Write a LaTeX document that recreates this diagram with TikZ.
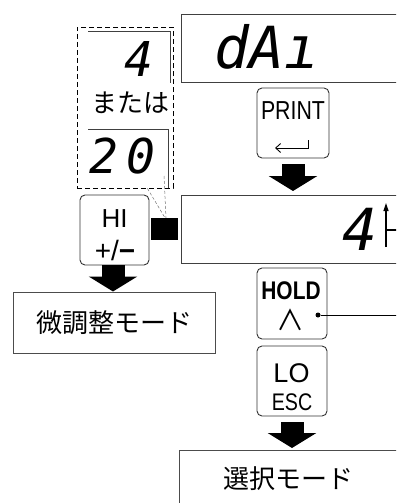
\documentclass[tikz,border=0pt]{standalone}
\usepackage{fontspec}
\setmainfont{Liberation Sans}
\newfontfamily\segfont{DejaVu Sans Mono}
\newfontfamily\jpfont{Noto Sans CJK JP}
\newfontfamily\narrowfont{Liberation Sans}[FakeStretch=0.82]
\usetikzlibrary{arrows.meta,calc}
\begin{document}
\begin{tikzpicture}[x=1pt,y=-1pt,
  frame/.style={draw=black!75, line width=1pt},
  keybox/.style={draw=black!80, line width=0.9pt, rounded corners=5pt, inner sep=0pt},
  modebox/.style={draw=black!70, line width=1pt, inner sep=0pt},
  seg/.style={font=\segfont\itshape\fontsize{48}{48}\selectfont, inner sep=0pt},
  segbig/.style={font=\segfont\itshape\fontsize{58}{58}\selectfont, inner sep=0pt},
  jp/.style={font=\jpfont\fontsize{26}{26}\selectfont, inner sep=0pt},
  keytxt/.style={font=\fontsize{26}{26}\selectfont, inner sep=0pt},
  bigarr/.style={line width=23pt, -{Triangle[length=15pt,width=48pt]}},
  ptr/.style={draw=black!55, line width=0.5pt, dash pattern=on 3pt off 2pt},
]
\useasboundingbox (0,0) rectangle (396,503);
\clip (0,0) rectangle (396,503);

% top display
\node[frame, minimum width=240pt, minimum height=68pt, anchor=north west] (disp1) at (181,14) {};
\node[segbig, anchor=base west] (dai) at (214,68) {dAı};

% left alternatives
\node[draw, line width=0.8pt, dash pattern=on 5pt off 3pt, minimum width=96pt, minimum height=161pt, inner sep=0pt] (grp) at (125,107.5) {};
\draw[frame, line width=0.9pt] (88,31) -- (170,31) -- (170,83);
\node[seg, anchor=base east] (four1) at (154,77) {4};
\node[jp] (mata) at (130,103) {または};
\draw[frame, line width=0.9pt] (88,129) -- (168,129) -- (168,188);
\node[seg, anchor=base east] (twenty) at (156,173) {2\hspace{9pt}0};

% black square and pointer
\node[fill=black, minimum width=27pt, minimum height=22pt, inner sep=0pt] (sq) at (164.5,229) {};
\coordinate (pstart) at (164,176);
\draw[ptr] ([xshift=-26pt]grp.south east) -- ([xshift=0.5pt]sq.north);
\draw[ptr] (pstart) -- ([xshift=1.5pt]sq.north);

% HI key
\node[keybox, minimum width=69pt, minimum height=70pt] (hi) at (114.5,230) {};
\node[keytxt] (hitxt) at (114.5,219) {HI};
\node[font=\fontsize{28}{28}\selectfont, inner sep=0pt] (pm) at (115,250) {+/\textbf{−}};

% PRINT key
\node[keybox, minimum width=72pt, minimum height=70pt] (print) at (293,123) {};
\node[font=\narrowfont\fontsize{26}{26}\selectfont, inner sep=0pt] (printtxt) at (293,111) {PRINT};
\coordinate (ret0) at (308,140);
\coordinate (ret1) at (308,148);
\coordinate (ret2) at (275,148);
\draw[line width=0.9pt, -{Straight Barb[length=5pt,width=9pt]}] (ret0) -- (ret1) -- (ret2);

% second display
\node[frame, minimum width=240pt, minimum height=68pt, anchor=north west] (disp2) at (181,195) {};
\node[segbig, anchor=base east] (four2) at (378,250) {4};
\coordinate (up0) at (386,247);
\coordinate (up1) at (386,203);
\coordinate (hr0) at (386,230);
\coordinate (hr1) at (398,230);
\draw[line width=1.2pt, -{Triangle[length=8pt,width=5pt]}] (up0) -- (up1);
\draw[line width=1.2pt] (hr0) -- (hr1);

\draw[bigarr] ($(print.south)+(0,6)$) -- ($(print.south|-disp2.north)+(0,-4)$);

% fine adjust mode
\node[modebox, jp, minimum width=202pt, minimum height=61pt] (mode1) at (114,322.5) {微調整モード};
\draw[bigarr] ($(hi.south)+(-1.5,0)$) -- ($(hi.south|-mode1.north)+(-1.5,0)$);

% HOLD key
\node[keybox, minimum width=70pt, minimum height=71pt] (hold) at (292,303.5) {};
\node[font=\narrowfont\bfseries\fontsize{25.5}{25.5}\selectfont, inner sep=0pt] (holdtxt) at (291,291) {HOLD};
\node[font=\jpfont\fontsize{28}{28}\selectfont, inner sep=0pt] (wedge) at (290,320) {∧};
\node[circle, fill=black, minimum size=5pt, inner sep=0pt] (dot) at (318,315) {};
\coordinate (dotend) at (398,315);
\draw[line width=1pt] (dot) -- (dotend);

% LO key
\node[keybox, minimum width=70pt, minimum height=70pt] (lo) at (292,381) {};
\node[font=\fontsize{27}{27}\selectfont, inner sep=0pt] (lotxt) at (291.5,373) {LO};
\node[font=\narrowfont\fontsize{24}{24}\selectfont, inner sep=0pt] (esctxt) at (292,402) {ESC};

% select mode
\node[modebox, minimum width=240pt, minimum height=80pt, anchor=north west] (mode2) at (179,450) {};
\node[jp] (sel) at (288,479) {選択モード};
\draw[bigarr] ($(lo.south)+(0,6)$) -- ($(lo.south|-mode2.north)+(0,-2)$);
\end{tikzpicture}
\end{document}
